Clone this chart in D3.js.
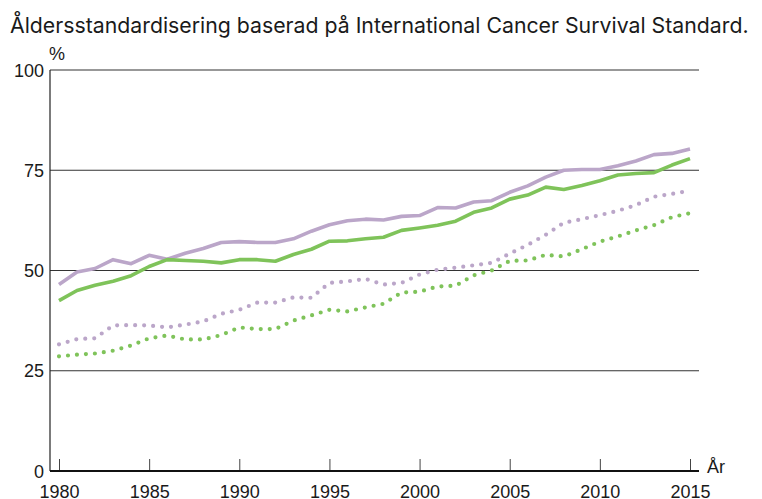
<!DOCTYPE html>
<html>
<head>
<meta charset="utf-8">
<script src="https://cdn.jsdelivr.net/npm/d3@7"></script>
<style>
  body { margin: 0; background: #fff; }
  text { font-family: "Liberation Sans", Arial, sans-serif; fill: #1a1a1a; }
</style>
</head>
<body>
<script>
var years = d3.range(1980, 2016);

// solid lines
var purpleSolid = [46.5, 49.6, 50.5, 52.7, 51.7, 53.8, 52.8, 54.3, 55.5, 57.0, 57.2, 57.0, 57.0, 57.9, 59.8, 61.4, 62.4, 62.8, 62.6, 63.5, 63.7,
  65.7, 65.6, 67.1, 67.4, 69.5, 71.1, 73.3, 75.0, 75.2, 75.2, 76.1, 77.3, 78.9, 79.2, 80.3];
var greenSolid = [42.5, 45.0, 46.3, 47.3, 48.7, 51.0, 52.7, 52.5, 52.3, 51.9, 52.7, 52.7, 52.3, 54.0, 55.3, 57.3, 57.4, 57.9, 58.3, 60.0, 60.6,
  61.3, 62.3, 64.5, 65.6, 67.8, 68.8, 70.8, 70.2, 71.2, 72.4, 73.8, 74.2, 74.4, 76.3, 77.9];
// dotted lines
var purpleDotted = [31.6, 32.9, 33.1, 36.3, 36.4, 36.3, 35.8, 36.5, 37.3, 39.2, 40.2, 42.0, 42.0, 43.3, 43.2, 46.9, 47.3, 47.9, 46.5, 46.9, 49.0,
  50.2, 50.7, 51.3, 51.9, 54.2, 56.4, 58.9, 61.9, 62.8, 63.8, 64.9, 66.3, 68.4, 69.1, 69.9];
var greenDotted = [28.6, 29.0, 29.3, 30.0, 31.3, 33.1, 33.8, 32.8, 32.8, 33.9, 35.8, 35.4, 35.4, 37.5, 38.8, 40.2, 39.8, 40.8, 41.7, 44.5, 44.7,
  46.0, 46.2, 48.8, 50.0, 52.4, 52.5, 53.9, 53.5, 55.3, 57.2, 58.5, 60.0, 61.3, 63.3, 64.3];

var yTicks = [0, 25, 50, 75, 100];
var xTicks = [1980, 1985, 1990, 1995, 2000, 2005, 2010, 2015];

var purple = "#bba6c9", green = "#7fc35a";

var svg = d3.select("body").append("svg")
  .attr("width", 762)
  .attr("height", 499);

var x = d3.scaleLinear().domain([1980, 2015]).range([59, 690]);
var y = d3.scaleLinear().domain([0, 100]).range([471, 70]);
var left = 50, right = 699;

// title, sized to span the same width as the original
var title = svg.append("text")
  .attr("x", 10).attr("y", 33)
  .style("font-family", "Inter, 'Open Sans', sans-serif")
  .style("font-size", "18px")
  .text("Åldersstandardisering baserad på International Cancer Survival Standard.");
var tw = title.node().getComputedTextLength();
title.style("font-size", (18 * 739 / tw).toFixed(2) + "px");

// gridlines
svg.selectAll("line.grid")
  .data(yTicks.filter(function(d) { return d > 0; }))
  .enter().append("line")
  .attr("class", "grid")
  .attr("x1", left).attr("x2", right)
  .attr("y1", function(d) { return y(d); })
  .attr("y2", function(d) { return y(d); })
  .attr("stroke", "#333").attr("stroke-width", 1.2);

// y labels
svg.selectAll("text.ylab")
  .data(yTicks)
  .enter().append("text")
  .attr("class", "ylab")
  .attr("x", 44)
  .attr("y", function(d) { return y(d) + 6.5; })
  .attr("text-anchor", "end")
  .style("font-size", "18px")
  .text(function(d) { return d; });

svg.append("text").attr("x", 49).attr("y", 60).style("font-size", "18px").text("%");

// y axis line
svg.append("line")
  .attr("x1", left).attr("x2", left)
  .attr("y1", y(100)).attr("y2", y(0))
  .attr("stroke", "#222").attr("stroke-width", 1.2);

// x axis
var xAxis = d3.axisBottom(x)
  .tickValues(xTicks)
  .tickFormat(d3.format("d"))
  .tickSizeInner(-12)
  .tickSizeOuter(0)
  .tickPadding(14);

var gx = svg.append("g")
  .attr("transform", "translate(0," + y(0) + ")")
  .call(xAxis);
gx.select(".domain").remove();
gx.selectAll(".tick line").attr("stroke", "#444").attr("stroke-width", 1);
gx.selectAll(".tick text")
  .style("font-size", "18px")
  .style("font-family", "'Liberation Sans', Arial, sans-serif")
  .attr("fill", "#1a1a1a");

svg.append("line")
  .attr("x1", left).attr("x2", right)
  .attr("y1", y(0)).attr("y2", y(0))
  .attr("stroke", "#111").attr("stroke-width", 2);

svg.append("text").attr("x", 707).attr("y", 473).style("font-size", "18px").text("År");

var line = d3.line()
  .x(function(d, i) { return x(years[i]); })
  .y(function(d) { return y(d); });

function drawSeries(values, color, dotted) {
  var p = svg.append("path")
    .datum(values)
    .attr("d", line)
    .attr("fill", "none")
    .attr("stroke", color);
  if (dotted) {
    p.attr("stroke-width", 4.2)
      .attr("stroke-linecap", "round")
      .attr("stroke-dasharray", "0 9");
  } else {
    p.attr("stroke-width", 3.6)
      .attr("stroke-linejoin", "round");
  }
}

drawSeries(purpleDotted, purple, true);
drawSeries(greenDotted, green, true);
drawSeries(purpleSolid, purple, false);
drawSeries(greenSolid, green, false);
</script>
</body>
</html>
